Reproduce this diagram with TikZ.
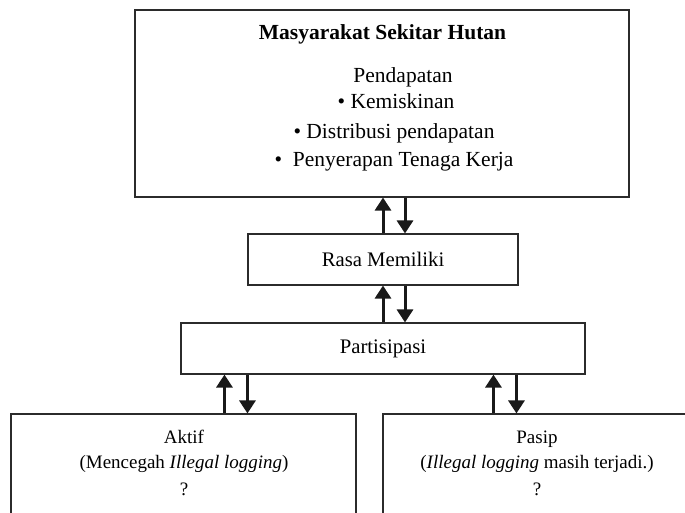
\documentclass[tikz,border=0pt]{standalone}
\usepackage{fontspec}
\setmainfont{Liberation Serif}
\usepackage{tikz}
\usetikzlibrary{positioning, arrows.meta, calc}
\definecolor{edge}{HTML}{2B2B2B}

\begin{document}
\begin{tikzpicture}[x=1pt,y=-1pt,
  box/.style={draw=edge,line width=1.1pt,rectangle,inner sep=0pt,fill=white},
  txt/.style={anchor=base,font=\fontsize{21.5}{24}\selectfont,inner sep=0pt},
  sml/.style={txt,font=\fontsize{19}{24}\selectfont},
  arr/.style={line width=3pt,draw=black!90,-{Triangle[width=16pt,length=13pt]}}]
  \useasboundingbox (0,0) rectangle (685,512);
  \def\dx{22}
  \node[box,minimum width=494pt,minimum height=187pt] (hutan) at (382,103.5) {};
  \node[box,minimum width=270pt,minimum height=51pt,font=\fontsize{20.7}{24}\selectfont] (rasa) at (383,259.5) {Rasa Memiliki};
  \node[box,minimum width=404pt,minimum height=51pt,font=\fontsize{20.7}{24}\selectfont] (part) at (383,348.5) {Partisipasi};
  \node[box,minimum width=345pt,minimum height=126pt] (aktif) at (183.5,477) {};
  \node[box,minimum width=308pt,minimum height=126pt] (pasip) at (537,477) {};
  \node[txt] (judul) at (382.5,39) {\textbf{Masyarakat Sekitar Hutan}};
  \node[txt] (pend) at (403,82) {Pendapatan};
  \node[txt] (miskin) at (396,108) {\textbullet\ Kemiskinan};
  \node[txt] (distr) at (394,138) {\textbullet\ Distribusi pendapatan};
  \node[txt] (kerja) at (394,166) {\textbullet\ \ Penyerapan Tenaga Kerja};
  \node[sml] (akt1) at (184,443) {Aktif};
  \node[sml] (akt2) at (184,468) {(Mencegah \textit{Illegal logging})};
  \node[sml] (akt3) at (184,495) {?};
  \node[sml] (pas1) at (537,443) {Pasip};
  \node[sml] (pas2) at (537,468) {(\textit{Illegal logging} masih terjadi.)};
  \node[sml] (pas3) at (537,495) {?};
  \coordinate (r1) at ([xshift=\dx pt]rasa.north);
  \coordinate (p1) at ([xshift=\dx pt]part.north);
  \coordinate (ua) at ([xshift=44pt]part.south west);
  \coordinate (da) at ([xshift=67pt]part.south west);
  \coordinate (up) at ([xshift=111pt]pasip.north west);
  \coordinate (dp) at ([xshift=134pt]pasip.north west);
  \draw[arr] (rasa.north) -- (rasa.north |- hutan.south);
  \draw[arr] (r1 |- hutan.south) -- (r1);
  \draw[arr] (part.north) -- (part.north |- rasa.south);
  \draw[arr] (p1 |- rasa.south) -- (p1);
  \draw[arr] (ua |- aktif.north) -- (ua);
  \draw[arr] (da) -- (da |- aktif.north);
  \draw[arr] (up) -- (up |- part.south);
  \draw[arr] (dp |- part.south) -- (dp);
\end{tikzpicture}
\end{document}
